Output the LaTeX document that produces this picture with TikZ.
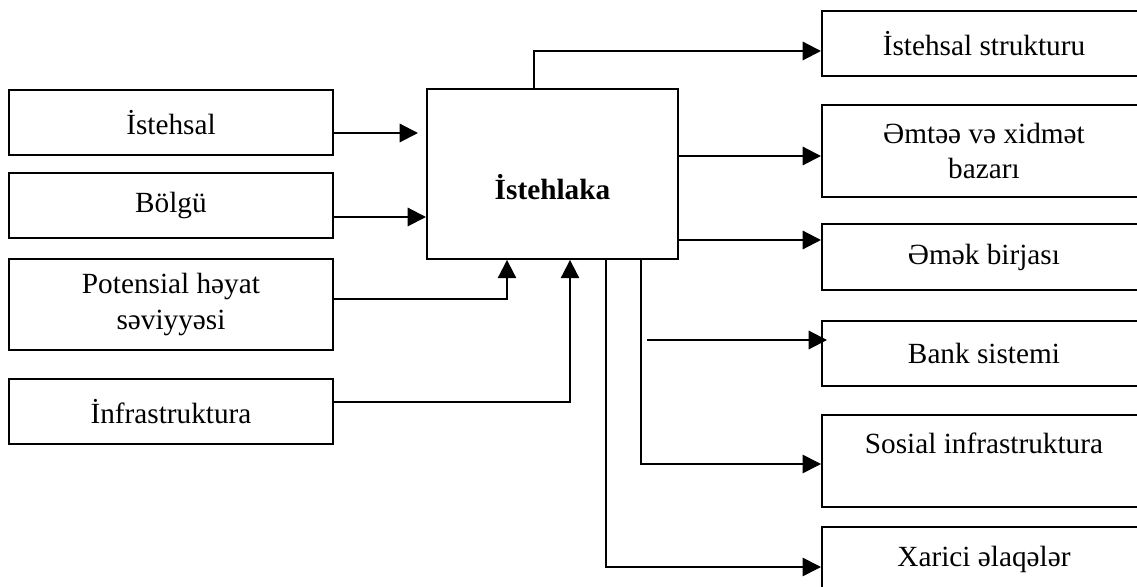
\documentclass[tikz,border=0pt,12pt]{standalone}
\usepackage{fontspec}
\setmainfont{Liberation Serif}
\usetikzlibrary{arrows.meta}
\def\pxl{0.41pt}
\tikzset{
	box/.style={draw, line width=0.8pt, anchor=north west, inner sep=0pt, align=center, minimum width=324*\pxl, minimum height=65*\pxl},
	arr/.style={line width=0.85pt, -{Triangle[length=7.5pt,width=7.5pt]}},
	thinarr/.style={arr, line width=0.65pt}
}
\begin{document}
\begin{tikzpicture}[x=\pxl, y=-\pxl]
		%%%%% START %%%%%
		\useasboundingbox (0,0) rectangle (1137,587);
		\clip (0,0) rectangle (1137,587);
		
		\node[box] (ist) at (8,89) {İstehsal};
		\node[box] (bol) at (8,172) {Bölgü};
		\node[box, minimum height=91*\pxl] (pot) at (8,258) {Potensial həyat\\səviyyəsi};
		\node[box] (inf) at (8,378) {İnfrastruktura};
		
		\node[box, minimum width=251*\pxl, minimum height=170*\pxl] (cen) at (426,88) {};
		\node[font=\bfseries] (cenlbl) at ([yshift=-13*\pxl]cen.center) {İstehlaka};
		
		\node[box] (r1) at (821,10) {İstehsal strukturu};
		\node[box, minimum height=92*\pxl] (r2) at (821,104) {Əmtəə və xidmət\\bazarı};
		\node[box, minimum height=66*\pxl] (r3) at (821,223) {Əmək birjası};
		\node[box] (r4) at (821,320) {Bank sistemi};
		\node[box, minimum height=92*\pxl] (r5) at (821,414) {Sosial infrastruktura\\\mbox{}};
		\node[box] (r6) at (821,526) {Xarici əlaqələr};
		
		\draw[arr, shorten >=8*\pxl] (ist.east |- 0,133) -- (cen.west |- 0,133);
		\draw[arr] (bol.east |- 0,217) -- (cen.west |- 0,217);
		\draw[arr] (pot.east |- 0,299) -| (cen.south -| 507,0);
		\draw[arr] (inf.east |- 0,402) -| (cen.south -| 570,0);
		
		\draw[arr] (cen.north -| 534,0) |- (r1.west |- 0,51);
		\draw[arr] (cen.east |- 0,156) -- (r2.west |- 0,156);
		\draw[arr] (cen.east |- 0,240) -- (r3.west |- 0,240);
		
		\coordinate (bk) at (647,340);
		\draw[arr] (bk) -- ([xshift=6*\pxl]r4.west |- 0,340);
		\draw[thinarr] (cen.south -| 641,0) |- (r5.west |- 0,464);
		\draw[thinarr] (cen.south -| 606,0) |- (r6.west |- 0,567);
		
		%%%%% END %%%%%
	\end{tikzpicture}
\end{document}
